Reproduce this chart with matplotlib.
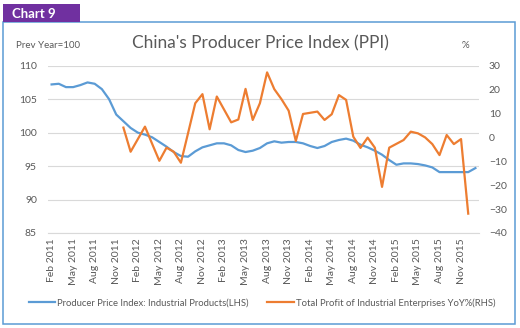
import numpy as np
import matplotlib.pyplot as plt
from matplotlib.patches import Rectangle

plt.rcParams['font.family'] = ['Lato', 'DejaVu Sans']

# PPI, prev year = 100, Feb 2011 .. Jan 2016 (LHS)
ppi = [107.2, 107.3, 106.8, 106.8, 107.1, 107.5, 107.3, 106.5, 105.0, 102.7,
       101.7, 100.7, 100.0, 99.7, 99.3, 98.6, 97.9, 97.1, 96.5, 96.4,
       97.2, 97.8, 98.1, 98.4, 98.4, 98.1, 97.4, 97.1, 97.3, 97.7,
       98.4, 98.7, 98.5, 98.6, 98.6, 98.4, 98.0, 97.7, 98.0, 98.6,
       98.9, 99.1, 98.8, 98.2, 97.8, 97.3, 96.7, 95.9, 95.2, 95.4,
       95.4, 95.3, 95.1, 94.8, 94.1, 94.1, 94.1, 94.1, 94.1, 94.7]

# total profit of industrial enterprises YoY % (RHS), same months
nan = np.nan
profit = [nan, nan, nan, nan, nan, nan, nan, nan, nan, nan,
          4.1, -6.0, nan, 4.5, -2.7, -9.8, -4.3, -6.0, -10.6, 1.8,
          14.3, 18.1, 3.4, 17.1, nan, 6.3, 7.5, 20.3, 7.3, 14.3,
          27.2, 20.2, 16.0, 11.2, -1.5, 9.8, nan, 10.8, 7.3, 9.7,
          17.7, 15.7, 0.3, -4.4, -0.1, -4.3, -20.7, -4.3, nan, -1.1,
          2.4, 1.7, 0.0, -2.8, -7.4, 1.0, -2.8, -0.7, -31.9, nan]

tick_labels = ['Feb 2011', 'May 2011', 'Aug 2011', 'Nov 2011', 'Feb 2012',
               'May 2012', 'Aug 2012', 'Nov 2012', 'Feb 2013', 'May 2013',
               'Aug 2013', 'Nov 2013', 'Feb 2014', 'May 2014', 'Aug 2014',
               'Nov 2014', 'Feb 2015', 'May 2015', 'Aug 2015', 'Nov 2015']

blue = '#5B9BD5'
orange = '#ED7D31'
grey = '#595959'

W, H = 520, 328
fig = plt.figure(figsize=(W / 100, H / 100), dpi=100)

# frame and header tab
fig.patches.append(Rectangle((3 / W, 1 - 324 / H), 512 / W, 302 / H, transform=fig.transFigure,
                             fill=False, edgecolor=blue, lw=1.1))
fig.patches.append(Rectangle((3 / W, 1 - 22 / H), 77 / W, 18 / H, transform=fig.transFigure,
                             facecolor='#7030A0', edgecolor='none'))
fig.text(12 / W, 1 - 13.5 / H, 'Chart 9', color='white', fontsize=9.5, fontweight='bold',
         va='center', ha='left')

ax = fig.add_axes([48 / W, 1 - 233 / H, 431 / W, (233 - 65.7) / H])
x = np.arange(len(ppi))
ax.plot(x, ppi, color=blue, lw=1.6, label='Producer Price Index: Industrial Products(LHS)')
ax.set_ylim(85, 110)
ax.set_yticks(range(85, 111, 5))
ax.set_xlim(-0.5, len(ppi) - 0.5)
ax.set_xticks(range(0, 3 * len(tick_labels), 3))
ax.set_xticklabels(tick_labels, rotation=90)
ax.grid(axis='y', color='#D9D9D9', lw=0.8)
ax.set_axisbelow(True)
for s in ['top', 'left', 'right']:
    ax.spines[s].set_visible(False)
ax.spines['bottom'].set_color('#D9D9D9')
ax.tick_params(axis='both', length=0, colors=grey, labelsize=7.5)
ax.tick_params(axis='y', pad=8)
ax.tick_params(axis='x', pad=4)

ax2 = ax.twinx()
p = np.array(profit)
ok = ~np.isnan(p)
ax2.plot(x[ok], p[ok], color=orange, lw=1.6,
         label='Total Profit of Industrial Enterprises YoY%(RHS)')
ax2.set_ylim(-40, 30)
ax2.set_yticks(range(-40, 31, 10))
for s in ['top', 'left', 'right', 'bottom']:
    ax2.spines[s].set_visible(False)
ax2.tick_params(axis='y', length=0, colors=grey, labelsize=7.5, pad=7)

fig.text(260 / W, 1 - 43 / H, "China's Producer Price Index (PPI)", color=grey, fontsize=12.4,
         ha='center', va='center')
fig.text(16 / W, 1 - 45 / H, 'Prev Year=100', color=grey, fontsize=7, ha='left', va='center')
fig.text(462 / W, 1 - 45 / H, '%', color=grey, fontsize=7, ha='left', va='center')

h1, l1 = ax.get_legend_handles_labels()
h2, l2 = ax2.get_legend_handles_labels()
fig.legend(h1 + h2, l1 + l2, loc='center', bbox_to_anchor=(262 / W, 1 - 303 / H), ncol=2,
           frameon=False, fontsize=6.8, labelcolor=grey, handlelength=2.8, handletextpad=0.2,
           columnspacing=2.0)

fig.savefig('out.png', dpi=100)
